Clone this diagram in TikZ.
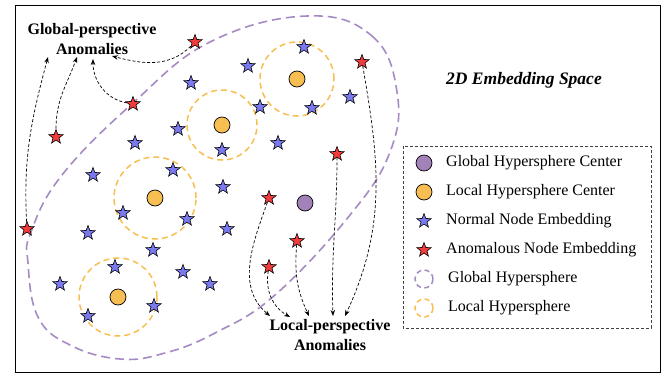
\documentclass[tikz,border=0pt]{standalone}
\usepackage{fontspec}
\setmainfont{Liberation Serif}
\usetikzlibrary{shapes.geometric,arrows.meta}
\definecolor{gline}{RGB}{166,138,196}
\definecolor{gpurple}{RGB}{162,130,184}
\definecolor{lorange}{RGB}{247,190,82}
\definecolor{starblue}{RGB}{122,122,238}
\definecolor{starred}{RGB}{240,60,60}
\begin{document}
\begin{tikzpicture}[x=1pt,y=-1pt,
  nstar/.style={star,star points=5,star point ratio=2.4,minimum size=15pt,inner sep=0pt,draw=black,line width=0.6pt,fill=starblue},
  astar/.style={nstar,fill=starred},
  lcen/.style={circle,minimum size=16pt,inner sep=0pt,draw=black,line width=0.7pt,fill=lorange},
  gcen/.style={lcen,fill=gpurple},
  lsph/.style={draw=lorange,line width=1.5pt,dash pattern=on 6pt off 4pt},
  gsph/.style={draw=gline,line width=1.6pt,dash pattern=on 9pt off 5pt},
  arr/.style={-{Stealth[length=6pt,width=4.5pt]},line width=0.7pt,dash pattern=on 3pt off 2pt},
  ttl/.style={font=\bfseries\fontsize{16}{20}\selectfont,align=center},
  lgtxt/.style={anchor=west,font=\fontsize{16}{19}\selectfont,inner sep=0pt}
]
\useasboundingbox (0,0) rectangle (664,380);
\draw[line width=1pt] (15,5) rectangle (660,372);

% global hypersphere
\draw[gsph] plot[smooth cycle, tension=0.7] coordinates {
 (307,16) (372,36) (397,92) (390,152) (350,215) (275,295) (215,333)
 (165,353) (120,359) (70,345) (38,317) (28,263) (31,232) (62,175) (133,103) (210,42)};

% local hyperspheres
\draw[lsph] (297,79) circle (37pt);
\draw[lsph] (222,125) circle (35pt);
\draw[lsph] (155,198) circle (41pt);
\draw[lsph] (118,297) circle (39pt);

% centers
\node[lcen] (c1) at (297,79) {};
\node[lcen] (c2) at (222,125) {};
\node[lcen] (c3) at (155,198) {};
\node[lcen] (c4) at (118,297) {};
\node[gcen] (gc) at (305,203) {};

% normal stars
\foreach \p [count=\i] in {(304,47),(248,66),(191,83),(260,107),(312,108),(350,97),
 (222,150),(278,143),(223,187),(178,129),(135,143),(173,170),(93,175),
 (123,213),(187,219),(227,229),(88,233),(153,250),(115,267),(183,272),
 (210,284),(60,284),(154,306),(88,316)}
  \node[nstar] (n\i) at \p {};

% anomalous stars
\node[astar] (a1) at (195,42) {};
\node[astar] (a2) at (133,104) {};
\node[astar] (a3) at (56,137) {};
\node[astar] (a4) at (27,229) {};
\node[astar] (a5) at (362,62) {};
\node[astar] (a6) at (337,154) {};
\node[astar] (a7) at (269,198) {};
\node[astar] (a8) at (297,241) {};
\node[astar] (a9) at (269,267) {};

% titles
\node[ttl] (gt) at (92,39) {Global-perspective\\Anomalies};
\node[ttl] (lt) at (330,335) {Local-perspective\\Anomalies};
\node[font=\bfseries\itshape\fontsize{17.5}{20}\selectfont] (es) at (524,80) {2D Embedding Space};

% arrow end points
\coordinate (g1) at (112,56);
\coordinate (g2) at (93,59);
\coordinate (g3) at (77,57);
\coordinate (g4) at (48,57);
\coordinate (l1) at (270,316);
\coordinate (l2) at (290,317);
\coordinate (l3) at (309,316);
\coordinate (l4) at (333,316);
\coordinate (l5) at (345,316);

\draw[arr] (a1) to[out=225,in=-15] (g1);
\draw[arr] (a2) to[out=170,in=-90] (g2);
\draw[arr] (a3) to[out=90,in=-110] (g3);
\draw[arr] (a4) to[out=93,in=-105] (g4);
\draw[arr] (a7) to[out=-110,in=140] (l1);
\draw[arr] (a9) to[out=-100,in=150] (l2);
\draw[arr] (a8) to[out=-95,in=115] (l3);
\draw[arr] (a6) to[out=-90,in=92] (l4);
\draw[arr] (a5) to[out=-80,in=65] (l5);

% legend
\draw[line width=0.6pt,draw=black!75,dash pattern=on 3pt off 2pt] (403,146) rectangle (651,328);
\node[gcen] (lg1) at (424,163) {};
\node[lcen] (lg2) at (424,192) {};
\node[nstar] (lg3) at (424,221) {};
\node[astar] (lg4) at (424,250) {};
\draw[draw=gline,line width=1.5pt,dash pattern=on 5pt off 3.5pt] (424,279) circle (9pt);
\draw[draw=lorange,line width=1.5pt,dash pattern=on 5pt off 3.5pt] (424,308) circle (9pt);
\node[lgtxt] (t1) at (446,163) {Global Hypersphere Center};
\node[lgtxt] (t2) at (446,192) {Local Hypersphere Center};
\node[lgtxt] (t3) at (446,221) {Normal Node Embedding};
\node[lgtxt] (t4) at (446,250) {Anomalous Node Embedding};
\node[lgtxt] (t5) at (448,279) {Global Hypersphere};
\node[lgtxt] (t6) at (448,308) {Local Hypersphere};
\end{tikzpicture}
\end{document}
